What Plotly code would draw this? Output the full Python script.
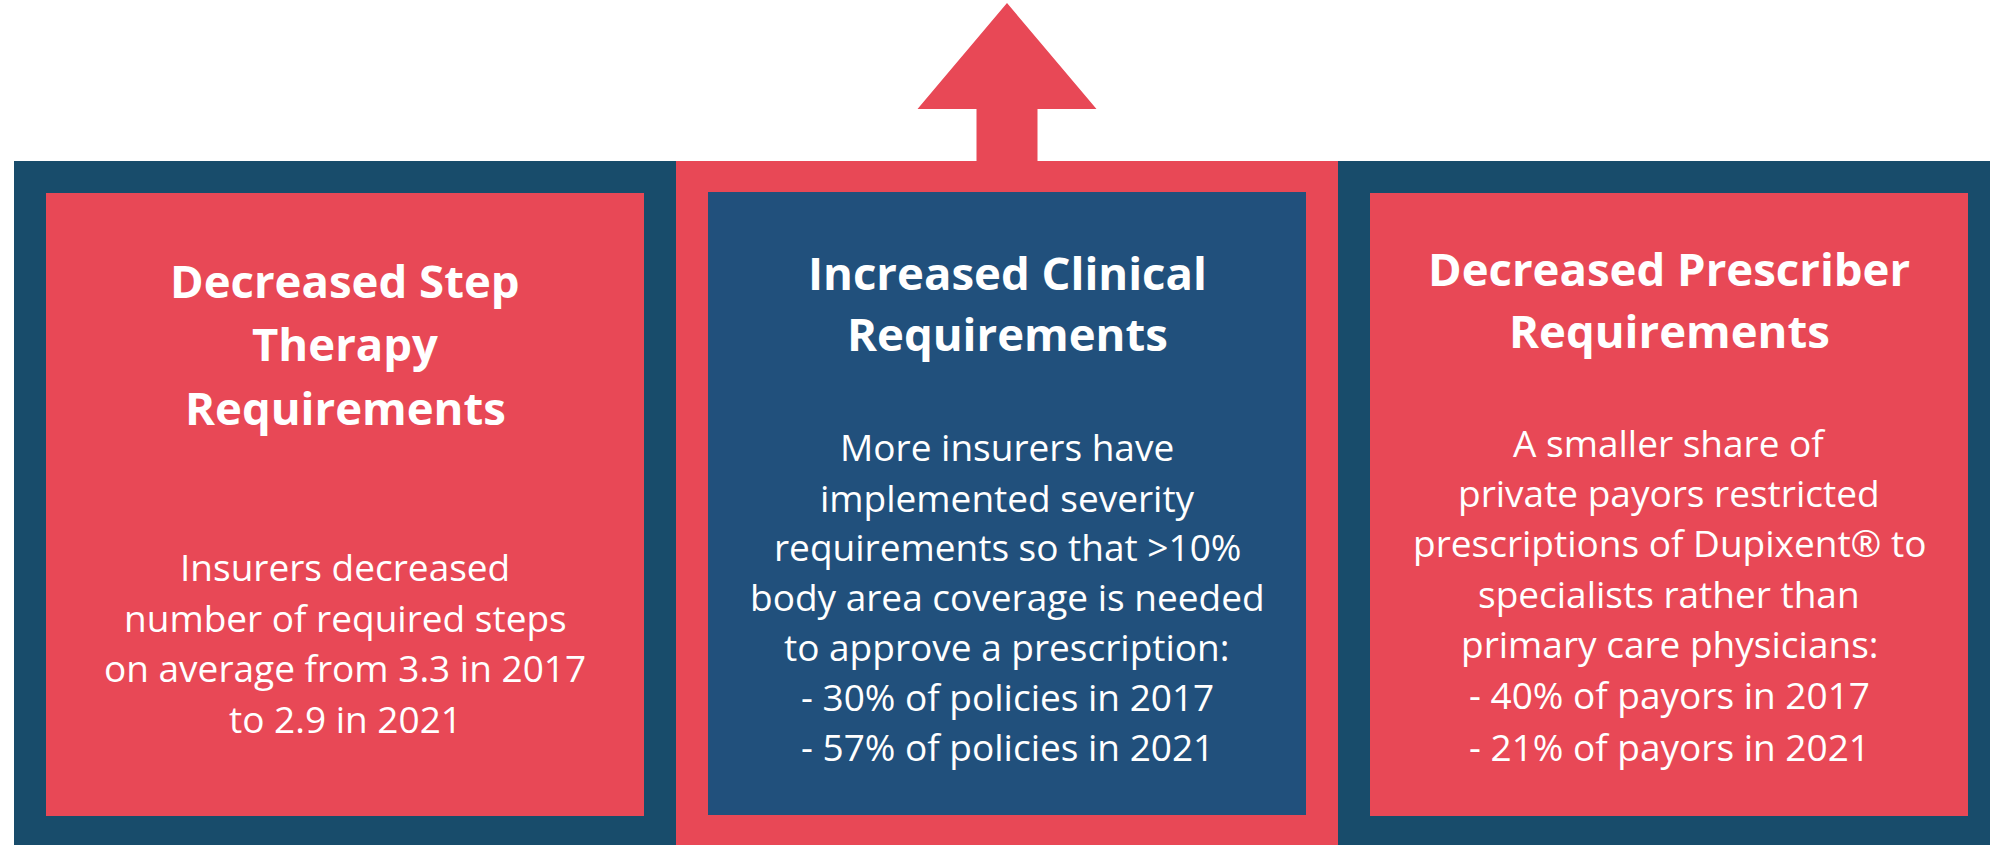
import plotly.graph_objects as go

# ---- content ----
titles = [
    ["Decreased Step", "Therapy", "Requirements"],
    ["Increased Clinical", "Requirements"],
    ["Decreased Prescriber", "Requirements"],
]
bodies = [
    ["Insurers decreased", "number of required steps",
     "on average from 3.3 in 2017", "to 2.9 in 2021"],
    ["More insurers have", "implemented severity",
     "requirements so that >10%", "body area coverage is needed",
     "to approve a prescription:", "- 30% of policies in 2017",
     "- 57% of policies in 2021"],
    ["A smaller share of", "private payors restricted",
     "prescriptions of Dupixent® to", "specialists rather than",
     "primary care physicians:", "- 40% of payors in 2017",
     "- 21% of payors in 2021"],
]
title_y = [[280, 343, 407], [272, 333], [268, 330]]
body_y = [[566, 617, 667, 718],
          [446, 497, 546, 596, 646, 696, 746],
          [442, 492, 542, 593, 643, 694, 746]]

RED = "#E84856"
DARK = "#184C6B"
BLUE = "#21507C"
outer_colors = [DARK, RED, DARK]
inner_colors = [RED, BLUE, RED]

W, H = 1990, 845
outer_x = [14, 676, 1338, 1990]
outer_top = 161
inner_pad = 32
inner_top = [193, 192, 193]
inner_bot = [816, 815, 816]

fig = go.Figure()
fig.add_trace(go.Scatter(x=[0, W], y=[0, H], mode="markers",
                         marker=dict(opacity=0), hoverinfo="skip",
                         showlegend=False))

shapes = []
for i in range(3):
    x0, x1 = outer_x[i], outer_x[i + 1]
    shapes.append(dict(type="rect", x0=x0, x1=x1, y0=outer_top, y1=H,
                       fillcolor=outer_colors[i], line=dict(width=0),
                       layer="below"))
    shapes.append(dict(type="rect", x0=x0 + inner_pad,
                       x1=x0 + inner_pad + 598,
                       y0=inner_top[i], y1=inner_bot[i],
                       fillcolor=inner_colors[i], line=dict(width=0),
                       layer="below"))

# arrow above middle panel
cx = (outer_x[1] + outer_x[2]) / 2
tip_y, head_y, head_hw, shaft_hw = 3, 109, 89.5, 30.5
path = (f"M {cx},{tip_y} L {cx + head_hw},{head_y} L {cx + shaft_hw},{head_y} "
        f"L {cx + shaft_hw},{outer_top + 2} L {cx - shaft_hw},{outer_top + 2} "
        f"L {cx - shaft_hw},{head_y} L {cx - head_hw},{head_y} Z")
shapes.append(dict(type="path", path=path, fillcolor=RED,
                   line=dict(width=0), layer="below"))

annotations = []
for i in range(3):
    px = outer_x[i] + inner_pad + 299
    for t, y in zip(titles[i], title_y[i]):
        annotations.append(dict(x=px, y=y, text=f"<b>{t}</b>", showarrow=False,
                                xanchor="center", yanchor="middle",
                                font=dict(family="Open Sans", size=45.5,
                                          color="white")))
    for t, y in zip(bodies[i], body_y[i]):
        annotations.append(dict(x=px, y=y, text=t, showarrow=False,
                                xanchor="center", yanchor="middle",
                                font=dict(family="Open Sans", size=37,
                                          color="white")))

fig.update_layout(
    width=W, height=H, margin=dict(l=0, r=0, t=0, b=0),
    paper_bgcolor="white", plot_bgcolor="white",
    xaxis=dict(range=[0, W], visible=False, fixedrange=True),
    yaxis=dict(range=[H, 0], visible=False, fixedrange=True),
    shapes=shapes, annotations=annotations, showlegend=False,
)
fig.write_html("out.html", config={"displayModeBar": False},
               post_script="document.body.style.margin='0';"
                           "document.body.style.overflow='hidden';")
